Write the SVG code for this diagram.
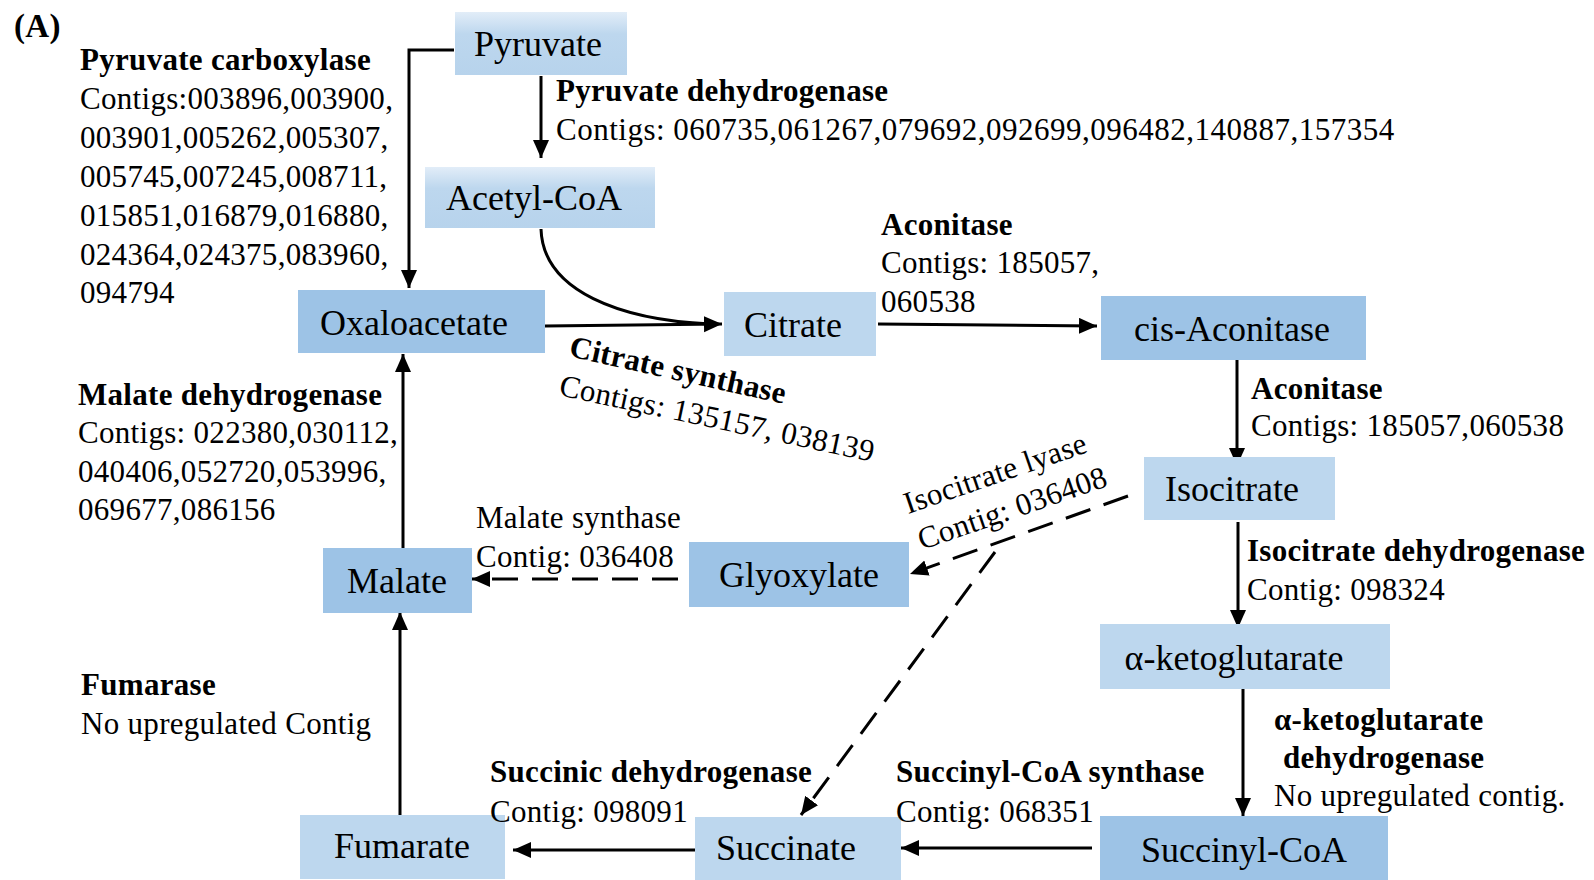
<svg xmlns="http://www.w3.org/2000/svg" width="1594" height="880" viewBox="0 0 1594 880">
<style>
.lt{fill:#bdd7ee}
.dk{fill:#9dc3e6}
.nt{font-family:"Liberation Serif","Times New Roman",serif;font-size:36px;fill:#000;text-anchor:middle}
.lb{font-family:"Liberation Serif","Times New Roman",serif;font-size:31px;fill:#000;letter-spacing:0.3px}
.b{font-weight:bold}
.c{fill:none;stroke:#000;stroke-width:3}
.d{stroke-dasharray:26 14}
</style>
<defs>
<marker id="ah" markerUnits="userSpaceOnUse" markerWidth="20" markerHeight="18" refX="18" refY="8" orient="auto">
<path d="M0,0 L18,8 L0,16 z" fill="#000"/>
</marker>
<linearGradient id="gl" x1="0" y1="0" x2="0" y2="1">
<stop offset="0" stop-color="#e2edf8"/>
<stop offset="0.35" stop-color="#bdd7ee"/>
<stop offset="1" stop-color="#b7d3ec"/>
</linearGradient>
</defs>
<rect width="1594" height="880" fill="#fff"/>

<g id="connectors">
<path class="c" d="M454,50 H409 V288" marker-end="url(#ah)"/>
<path class="c" d="M541,76 V158" marker-end="url(#ah)"/>
<path class="c" d="M541,229 C543,292 622,320 710,324"/>
<path class="c" d="M545,326 L722,324" marker-end="url(#ah)"/>
<path class="c" d="M878,324 L1097,326" marker-end="url(#ah)"/>
<path class="c" d="M1237,360 V466" marker-end="url(#ah)"/>
<path class="c" d="M1238,522 V628" marker-end="url(#ah)"/>
<path class="c" d="M1243,689 V816" marker-end="url(#ah)"/>
<path class="c" d="M1092,848 L901,848" marker-end="url(#ah)"/>
<path class="c" d="M695,850 L513,850" marker-end="url(#ah)"/>
<path class="c" d="M400,818 V612" marker-end="url(#ah)"/>
<path class="c" d="M403,548 V354" marker-end="url(#ah)"/>
<path class="c d" d="M678,579 L472,579" marker-end="url(#ah)"/>
<path class="c d" d="M1128,496 L910,574" marker-end="url(#ah)"/>
<path class="c d" d="M995,552 L801,815" marker-end="url(#ah)"/>
</g>

<g id="pyruvate"><rect x="455" y="12" width="172" height="63" fill="url(#gl)"/><text class="nt" x="538" y="56">Pyruvate</text></g>
<g id="acetylcoa"><rect x="425" y="167" width="230" height="61" fill="url(#gl)"/><text class="nt" x="534" y="210">Acetyl-CoA</text></g>
<g id="oxaloacetate"><rect class="dk" x="298" y="290" width="247" height="63"/><text class="nt" x="414" y="335">Oxaloacetate</text></g>
<g id="citrate"><rect class="lt" x="724" y="292" width="152" height="64"/><text class="nt" x="793" y="337">Citrate</text></g>
<g id="cisaconitase"><rect class="dk" x="1101" y="296" width="265" height="64"/><text class="nt" x="1232" y="341">cis-Aconitase</text></g>
<g id="isocitrate"><rect class="lt" x="1144" y="457" width="191" height="63"/><text class="nt" x="1232" y="501">Isocitrate</text></g>
<g id="aketoglutarate"><rect class="lt" x="1100" y="624" width="290" height="65"/><text class="nt" x="1234" y="670">α-ketoglutarate</text></g>
<g id="succinylcoa"><rect class="dk" x="1100" y="816" width="288" height="64"/><text class="nt" x="1244" y="862">Succinyl-CoA</text></g>
<g id="succinate"><rect class="lt" x="695" y="817" width="206" height="63"/><text class="nt" x="786" y="860">Succinate</text></g>
<g id="fumarate"><rect class="lt" x="300" y="815" width="205" height="64"/><text class="nt" x="402" y="858">Fumarate</text></g>
<g id="malate"><rect class="dk" x="323" y="548" width="149" height="65"/><text class="nt" x="397" y="593">Malate</text></g>
<g id="glyoxylate"><rect class="dk" x="689" y="542" width="220" height="65"/><text class="nt" x="799" y="587">Glyoxylate</text></g>

<g id="labels">
<text class="lb b" x="14" y="37" style="font-size:33px">(A)</text>
<text class="lb b" x="80" y="70">Pyruvate carboxylase</text>
<text class="lb" x="80" y="109">Contigs:003896,003900,</text>
<text class="lb" x="80" y="148">003901,005262,005307,</text>
<text class="lb" x="80" y="187">005745,007245,008711,</text>
<text class="lb" x="80" y="226">015851,016879,016880,</text>
<text class="lb" x="80" y="265">024364,024375,083960,</text>
<text class="lb" x="80" y="303">094794</text>
<text class="lb b" x="556" y="101">Pyruvate dehydrogenase</text>
<text class="lb" x="556" y="140" style="letter-spacing:0.5px">Contigs: 060735,061267,079692,092699,096482,140887,157354</text>
<text class="lb b" x="881" y="235">Aconitase</text>
<text class="lb" x="881" y="273">Contigs: 185057,</text>
<text class="lb" x="881" y="312">060538</text>
<text class="lb b" transform="translate(568,356) rotate(12.5)">Citrate synthase</text>
<text class="lb" transform="translate(558,395) rotate(12)">Contigs: 135157, 038139</text>
<text class="lb b" x="1251" y="399">Aconitase</text>
<text class="lb" x="1251" y="436">Contigs: 185057,060538</text>
<text class="lb" transform="translate(908,514) rotate(-19)">Isocitrate lyase</text>
<text class="lb" transform="translate(922,550) rotate(-19)">Contig: 036408</text>
<text class="lb b" x="1247" y="561">Isocitrate dehydrogenase</text>
<text class="lb" x="1247" y="600">Contig: 098324</text>
<text class="lb" x="476" y="528">Malate synthase</text>
<text class="lb" x="476" y="567">Contig: 036408</text>
<text class="lb b" x="78" y="405">Malate dehydrogenase</text>
<text class="lb" x="78" y="443">Contigs: 022380,030112,</text>
<text class="lb" x="78" y="482">040406,052720,053996,</text>
<text class="lb" x="78" y="520">069677,086156</text>
<text class="lb b" x="81" y="695">Fumarase</text>
<text class="lb" x="81" y="734">No upregulated Contig</text>
<text class="lb b" x="490" y="782">Succinic dehydrogenase</text>
<text class="lb" x="490" y="822">Contig: 098091</text>
<text class="lb b" x="896" y="782">Succinyl-CoA synthase</text>
<text class="lb" x="896" y="822">Contig: 068351</text>
<text class="lb b" x="1274" y="730">α-ketoglutarate</text>
<text class="lb b" x="1283" y="768">dehydrogenase</text>
<text class="lb" x="1274" y="806">No upregulated contig.</text>
</g>
</svg>
